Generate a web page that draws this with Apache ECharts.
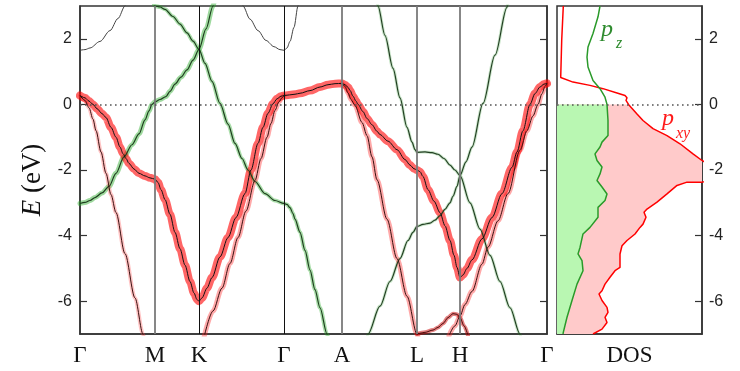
<!DOCTYPE html>
<html>
<head>
<meta charset="utf-8">
<script src="https://cdn.jsdelivr.net/npm/echarts@6/dist/echarts.min.js"></script>
<style>
  html, body { margin: 0; padding: 0; background: #fff; }
  #chart { width: 740px; height: 371px; }
</style>
</head>
<body>
<div id="chart"></div>
<script>
// k path (high symmetry points) and energy ticks
const kPoints = [0, 75, 119, 204, 262, 337, 380, 467];
const kLabels = ['Γ', 'M', 'K', 'Γ', 'A', 'L', 'H', 'Γ'];
const eTicks = [-6, -4, -2, 0, 2];

// sigma bands (p_xy), [k, E]
const sigmaHeavy = [[0,0.27],[5,0.2],[9,0.1],[13,0.0],[17,-0.13],[22,-0.28],[26,-0.4],[31,-0.7],[36,-1.0],[40,-1.3],[43,-1.5],[46,-1.65],[49,-1.8],[54,-1.97],[59,-2.1],[65,-2.18],[70,-2.24],[75,-2.28],
  [78,-2.38],[81,-2.6],[85,-2.9],[90,-3.35],[95,-3.9],[100,-4.4],[105,-4.9],[110,-5.4],[114,-5.75],[117,-5.95],[119,-6.0],
  [122,-5.9],[127,-5.6],[132,-5.28],[140,-4.65],[148,-4.06],[156,-3.45],[165,-2.72],[171,-2.0],[178,-1.19],[183,-0.7],[188,-0.27],[193,0.02],[197,0.17],[201,0.25],[204,0.27],
  [215,0.31],[220,0.34],[230,0.42],[240,0.53],[248,0.6],[255,0.632],[262,0.64],
  [265,0.6],[268,0.52],[270,0.43],[273,0.25],[276,0.1],[278,0.0],[283,-0.22],[287,-0.43],[292,-0.62],[297,-0.82],[300,-0.92],[308,-1.12],[317,-1.38],[325,-1.68],[330,-1.85],[334,-1.96],[337,-2.0],
  [340,-2.05],[343,-2.2],[348,-2.6],[354,-2.95],[360,-3.3],[365,-3.7],[370,-4.15],[374,-4.6],[377,-4.97],[380,-5.28],
  [383,-5.2],[387,-5.0],[392,-4.74],[402,-4.1],[412,-3.45],[422,-2.72],[432,-1.92],[437,-1.45],[443,-0.8],[450,0.0],[455,0.33],[460,0.53],[464,0.62],[467,0.64]];
const sigmaLightGM = [[0,0.27],[5,0.12],[9,-0.1],[13,-0.45],[16,-0.8],[21,-1.45],[26,-2.1],[31,-2.75],[36,-3.3],[45,-4.55],[55,-5.9],[63,-7.0],[64,-7.15]];
const sigmaLightKG = [[124,-7.1],[133,-6.3],[142,-5.6],[150,-4.85],[158,-4.06],[166,-3.25],[175,-2.32],[181,-1.65],[187,-1.0],[191,-0.58],[195,-0.18],[199,0.08],[202,0.2],[204,0.27]];
const sigmaLightAL = [[262,0.64],[265,0.55],[268,0.35],[271,0.15],[275,-0.03],[282,-0.55],[287,-0.95],[292,-1.6],[297,-2.3],[307,-3.5],[317,-4.7],[327,-5.85],[337,-7.0],[338,-7.1]];
const sigmaLightHG = [[369,-7.05],[375,-6.75],[380,-6.45],[385,-6.1],[392,-5.7],[402,-4.87],[408,-4.35],[418,-3.55],[428,-2.72],[440,-1.4],[447,-0.8],[453,-0.35],[458,0.0],[462,0.33],[465,0.55],[467,0.64]];
const sigmaLowLH = [[337,-7.0],[345,-6.95],[353,-6.88],[358,-6.8],[363,-6.68],[368,-6.5],[373,-6.38],[377,-6.4],[380,-6.5],[384,-6.75],[388,-7.05]];

// pi bands (p_z)
const piUp = [[0,-3.02],[5,-2.99],[10,-2.93],[15,-2.84],[22,-2.7],[29,-2.5],[36,-2.1],[44,-1.6],[52,-1.23],[59,-0.9],[65,-0.47],[69,-0.2],[72,0.0],[75,0.08],[80,0.15],[86,0.24],[90,0.4],[95,0.62],[101,0.83],[107,1.05],[113,1.35],[119,1.68],[126,2.3],[133,3.0],[134,3.1]];
const piDown = [[74,3.05],[75,3.0],[80,2.97],[85,2.9],[93,2.68],[100,2.45],[107,2.18],[113,1.93],[119,1.68],[125,1.25],[132,0.7],[140,0.03],[148,-0.6],[155,-1.19],[162,-1.65],[168,-2.0],[175,-2.35],[185,-2.72],[195,-2.93],[204,-3.02],
  [207,-3.05],[210,-3.15],[213,-3.33],[215,-3.5],[220,-3.9],[225,-4.45],[230,-5.05],[235,-5.65],[240,-6.2],[247,-7.0],[248,-7.1]];
const piAL = [[287,-7.1],[288,-7.0],[300,-6.15],[310,-5.4],[320,-4.7],[328,-4.15],[333,-3.9],[337,-3.72],[343,-3.66],[350,-3.62],[355,-3.53],[360,-3.39],[365,-3.2],[370,-3.0],[373,-2.8],[377,-2.5],[380,-2.17],
  [386,-1.75],[392,-1.3],[403,0.03],[415,1.5],[427,2.96],[428,3.1]];
const piTopL = [[297,3.1],[298,3.0],[305,2.1],[313,1.1],[320,0.2],[327,-0.7],[332,-1.15],[335,-1.38],[337,-1.46],[345,-1.45],[352,-1.47],[358,-1.52],[364,-1.65],[370,-1.85],[375,-2.0],[380,-2.17],
  [390,-3.0],[400,-3.8],[410,-4.6],[420,-5.4],[430,-6.2],[440,-7.0],[441,-7.1]];

// other bands above E_F
const upperG1 = [[0,1.65],[5,1.67],[10,1.72],[20,1.92],[30,2.25],[38,2.62],[45,3.0],[46,3.1]];
const upperG2 = [[162,3.1],[163,3.0],[170,2.6],[178,2.25],[186,1.95],[194,1.76],[200,1.67],[204,1.65],[207,1.72],[210,1.92],[214,2.35],[218,3.0],[219,3.1]];

// DOS, [dos, E]
const dosPz = [[0.43,3.0],[0.41,2.67],[0.36,2.16],[0.31,1.75],[0.30,1.44],[0.31,1.14],[0.36,0.73],[0.43,0.48],[0.48,0.22],[0.50,0.0],[0.51,-0.49],[0.51,-0.95],[0.45,-1.15],[0.43,-1.30],[0.38,-1.51],[0.40,-1.71],[0.45,-1.91],[0.43,-2.12],[0.40,-2.32],[0.45,-2.52],[0.50,-2.73],[0.48,-2.93],[0.41,-3.14],[0.41,-3.44],[0.33,-3.75],[0.26,-3.95],[0.23,-4.36],[0.21,-4.56],[0.25,-4.76],[0.26,-5.07],[0.20,-5.48],[0.15,-5.98],[0.10,-6.49],[0.063,-6.95],[0.06,-7.0]];
const dosPxy = [[0.063,3.0],[0.047,1.95],[0.037,0.82],[0.16,0.68],[0.33,0.58],[0.46,0.48],[0.60,0.35],[0.68,0.27],[0.70,0.20],[0.69,0.12],[0.715,0.0],[0.80,-0.29],[0.86,-0.49],[0.96,-0.74],[1.10,-0.95],[1.23,-1.2],[1.36,-1.51],[1.45,-1.71],[1.55,-1.9],[1.6,-2.1],[1.55,-2.3],[1.45,-2.37],[1.30,-2.37],[1.20,-2.47],[1.10,-2.73],[1.00,-2.98],[0.90,-3.19],[0.87,-3.29],[0.89,-3.44],[0.86,-3.65],[0.83,-3.75],[0.78,-3.95],[0.70,-4.15],[0.65,-4.31],[0.63,-4.56],[0.63,-4.97],[0.58,-5.07],[0.53,-5.27],[0.48,-5.48],[0.45,-5.68],[0.42,-5.78],[0.45,-5.98],[0.50,-6.19],[0.51,-6.34],[0.48,-6.49],[0.50,-6.65],[0.45,-6.85],[0.36,-7.0]];

const serif = '"Liberation Serif","DejaVu Serif",serif';
const sans = '"Liberation Sans","DejaVu Sans",sans-serif';

const chart = echarts.init(document.getElementById('chart'));

// fat band = translucent halo + thin core line
function fat(data, halo, haloW, core, coreW) {
  const base = {
    type: 'line', xAxisIndex: 0, yAxisIndex: 0, data: data,
    showSymbol: false, symbol: 'none', smooth: 0.3, smoothMonotone: 'x',
    silent: true, animation: false, clip: true
  };
  const out = [];
  if (halo) out.push(Object.assign({}, base, { z: 2, lineStyle: { color: halo, width: haloW, cap: 'round', join: 'round' } }));
  out.push(Object.assign({}, base, { z: 3, lineStyle: { color: core, width: coreW } }));
  return out;
}

// fill under a DOS curve for E <= 0
function dosFill(curve, color) {
  return {
    type: 'custom', xAxisIndex: 1, yAxisIndex: 2, data: [[0, 0]], clip: true, silent: true, z: 1,
    renderItem: function (params, api) {
      const pts = [[0, 0]].concat(curve.filter(p => p[1] <= 0), [[0, -7]]).map(p => api.coord(p));
      return { type: 'polygon', shape: { points: pts }, style: { fill: color } };
    }
  };
}

const zeroLine = () => ({ yAxis: 0, lineStyle: { color: '#555', width: 1.6, type: [1.6, 3.4] } });

const vLines = kPoints.slice(1, -1).map((k, i) => {
  const lab = kLabels[i + 1];
  const dark = lab === 'K' || lab === 'Γ';
  return { xAxis: k, lineStyle: { color: dark ? '#111' : '#7a7a7a', width: dark ? 1 : 1.8, type: 'solid' } };
});

const series = [
  {
    type: 'line', xAxisIndex: 0, yAxisIndex: 0, data: [], z: 1, silent: true, animation: false,
    markLine: {
      symbol: ['none', 'none'], silent: true, animation: false, label: { show: false },
      data: vLines.concat([zeroLine()])
    }
  }
].concat(
  fat(upperG1, null, 0, '#444', 1),
  fat(upperG2, null, 0, '#444', 1),
  fat(piUp, 'rgba(40,170,40,0.45)', 5, '#1e3f1e', 1.2),
  fat(piDown, 'rgba(40,170,40,0.4)', 4, '#1e3f1e', 1.2),
  fat(piAL, 'rgba(40,150,40,0.25)', 3, '#233f23', 1.2),
  fat(piTopL, 'rgba(40,150,40,0.25)', 3, '#233f23', 1.2),
  fat(sigmaLightGM, 'rgba(255,60,60,0.3)', 4, '#3a1010', 1),
  fat(sigmaLightKG, 'rgba(255,40,40,0.4)', 5, '#3a1010', 1),
  fat(sigmaLightAL, 'rgba(255,40,40,0.4)', 5, '#3a1010', 1),
  fat(sigmaLightHG, 'rgba(255,40,40,0.4)', 5, '#3a1010', 1),
  fat(sigmaLowLH, 'rgba(200,0,0,0.5)', 4, '#4a0a0a', 1),
  fat(sigmaHeavy, 'rgba(255,0,0,0.6)', 8, '#111', 1),
  [
    dosFill(dosPxy, '#ffcaca'),
    dosFill(dosPz, '#b9f7b2'),
    {
      type: 'line', xAxisIndex: 1, yAxisIndex: 2, data: dosPxy, showSymbol: false, symbol: 'none',
      silent: true, animation: false, clip: true, z: 3, lineStyle: { color: '#ff0000', width: 1.5 },
      markLine: {
        symbol: ['none', 'none'], silent: true, animation: false, label: { show: false },
        data: [zeroLine()]
      }
    },
    {
      type: 'line', xAxisIndex: 1, yAxisIndex: 2, data: dosPz, showSymbol: false, symbol: 'none',
      silent: true, animation: false, clip: true, z: 3, lineStyle: { color: '#2a9a2a', width: 1.5 }
    }
  ]
);

const frame = { show: true, onZero: false, lineStyle: { color: '#333', width: 1.5 } };

chart.setOption({
  animation: false,
  backgroundColor: '#fff',
  grid: [
    { left: 80, top: 6, width: 467, height: 328, show: true, borderColor: '#333', borderWidth: 1.5, containLabel: false, outerBoundsMode: 'none' },
    { left: 557, top: 6, width: 145, height: 328, show: true, borderColor: '#333', borderWidth: 1.5, containLabel: false, outerBoundsMode: 'none' }
  ],
  xAxis: [
    {
      type: 'value', gridIndex: 0, min: 0, max: 467, splitLine: { show: false },
      axisLine: frame, axisTick: { show: false },
      axisLabel: {
        customValues: kPoints, margin: 10, fontFamily: serif, fontSize: 23, color: '#111',
        formatter: v => kLabels[kPoints.indexOf(v)]
      }
    },
    {
      type: 'value', gridIndex: 1, min: 0, max: 1.45, splitLine: { show: false },
      axisLine: frame, axisTick: { show: false }, axisLabel: { show: false },
      name: 'DOS', nameLocation: 'middle', nameGap: 10,
      nameTextStyle: { fontFamily: serif, fontSize: 23, color: '#111', verticalAlign: 'top' }
    }
  ],
  yAxis: [
    {
      type: 'value', gridIndex: 0, min: -7, max: 3, splitLine: { show: false },
      axisLine: frame,
      axisTick: { inside: true, length: 7, customValues: eTicks, lineStyle: { color: '#333', width: 1.2 } },
      axisLabel: { customValues: eTicks, margin: 8, fontFamily: sans, fontSize: 16, color: '#222' },
      name: '{i|E} (eV)', nameLocation: 'middle', nameRotate: 90, nameGap: 32,
      nameTextStyle: {
        fontFamily: serif, fontSize: 27, color: '#111', padding: [0, 20, 0, 0],
        rich: { i: { fontFamily: serif, fontSize: 27, fontStyle: 'italic', color: '#111' } }
      }
    },
    {
      type: 'value', gridIndex: 0, position: 'right', min: -7, max: 3, splitLine: { show: false },
      axisLine: frame,
      axisTick: { inside: true, length: 7, customValues: eTicks, lineStyle: { color: '#333', width: 1.2 } },
      axisLabel: { show: false }
    },
    {
      type: 'value', gridIndex: 1, position: 'right', min: -7, max: 3, splitLine: { show: false },
      axisLine: frame,
      axisTick: { inside: true, length: 7, customValues: eTicks, lineStyle: { color: '#333', width: 1.2 } },
      axisLabel: { customValues: eTicks, margin: 7, fontFamily: sans, fontSize: 16, color: '#222' }
    }
  ],
  graphic: [
    { type: 'text', x: 601, y: 30, z: 10, style: { text: 'p', font: 'italic 24px ' + serif, fill: '#2e8b2e', verticalAlign: 'middle' } },
    { type: 'text', x: 616, y: 44, z: 10, style: { text: 'z', font: 'italic 16px ' + serif, fill: '#2e8b2e', verticalAlign: 'middle' } },
    { type: 'text', x: 662, y: 119, z: 10, style: { text: 'p', font: 'italic 24px ' + serif, fill: '#ff1a1a', verticalAlign: 'middle' } },
    { type: 'text', x: 676, y: 134, z: 10, style: { text: 'xy', font: 'italic 16px ' + serif, fill: '#ff1a1a', verticalAlign: 'middle' } }
  ],
  series: series
});
</script>
</body>
</html>
